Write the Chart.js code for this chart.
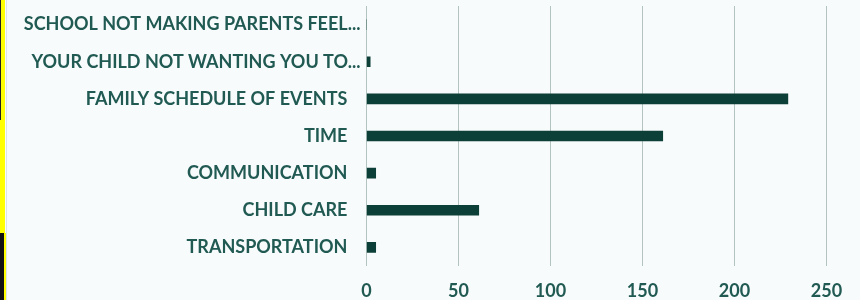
<!DOCTYPE html>
<html>
<head>
<meta charset="utf-8">
<script src="https://cdn.jsdelivr.net/npm/chart.js@4"></script>
<style>
    html, body { margin: 0; padding: 0; background: #f7fbfb; }
    #wrap { position: relative; width: 860px; height: 300px; }
    .edge { position: absolute; left: 0; }
    #chart { display: block; }
</style>
</head>
<body>
<div id="wrap">
    <canvas id="chart" width="860" height="300"></canvas>
    <div class="edge" style="top:0;height:120px;width:1px;background:#222;"></div>
    <div class="edge" style="top:0;height:120px;left:1px;width:4px;background:#ffff00;"></div>
    <div class="edge" style="top:120px;height:113px;width:5px;background:#ffff00;"></div>
    <div class="edge" style="top:233px;height:67px;width:4px;background:#111;"></div>
    <div class="edge" style="top:233px;height:67px;left:4px;width:2px;background:#ffff00;"></div>
    <div class="edge" style="top:0;height:300px;left:6px;width:1px;background:#dde6e4;"></div>
</div>
<script>
// Barriers, top to bottom as shown.
const categories = [
    'SCHOOL NOT MAKING PARENTS FEEL...',
    'YOUR CHILD NOT WANTING YOU TO...',
    'FAMILY SCHEDULE OF EVENTS',
    'TIME',
    'COMMUNICATION',
    'CHILD CARE',
    'TRANSPORTATION'
];
const responses = [0, 2, 229, 161, 5, 61, 5];
const xTicks = [0, 50, 100, 150, 200, 250];

const TEXT = '#215a53';
const BAR = '#0c3f37';
const GRID = '#b3c3bf';

new Chart(document.getElementById('chart').getContext('2d'), {
    type: 'bar',
    data: {
        labels: categories,
        datasets: [{
            data: responses,
            backgroundColor: BAR,
            barThickness: 10
        }]
    },
    options: {
        indexAxis: 'y',
        responsive: false,
        animation: false,
        layout: { padding: { top: 6, right: 33.5, left: 0, bottom: 0 } },
        plugins: { legend: { display: false }, tooltip: { enabled: false } },
        scales: {
            x: {
                min: xTicks[0],
                max: xTicks[xTicks.length - 1],
                afterBuildTicks: (scale) => { scale.ticks = xTicks.map(v => ({ value: v })); },
                afterFit: (scale) => { scale.height = 34; },
                grid: { color: GRID, lineWidth: 1, drawTicks: false },
                border: { display: false },
                ticks: {
                    color: TEXT,
                    padding: 14,
                    font: { family: 'Lato', size: 18, weight: 'bold' }
                }
            },
            y: {
                afterFit: (scale) => {
                    scale.width = 366.5;
                    scale.paddingTop = 0;
                    scale.paddingBottom = 0;
                },
                grid: { display: false, drawTicks: false },
                border: { display: false },
                ticks: {
                    color: TEXT,
                    padding: 6,
                    autoSkip: false,
                    // truncated labels run a little past the others, as in the original
                    callback: function (value) {
                        const label = this.getLabelForValue(value);
                        return label.endsWith('...') ? label : label + '   ';
                    },
                    font: { family: 'Lato', size: 18, weight: 'bold' }
                }
            }
        }
    }
});
</script>
</body>
</html>
